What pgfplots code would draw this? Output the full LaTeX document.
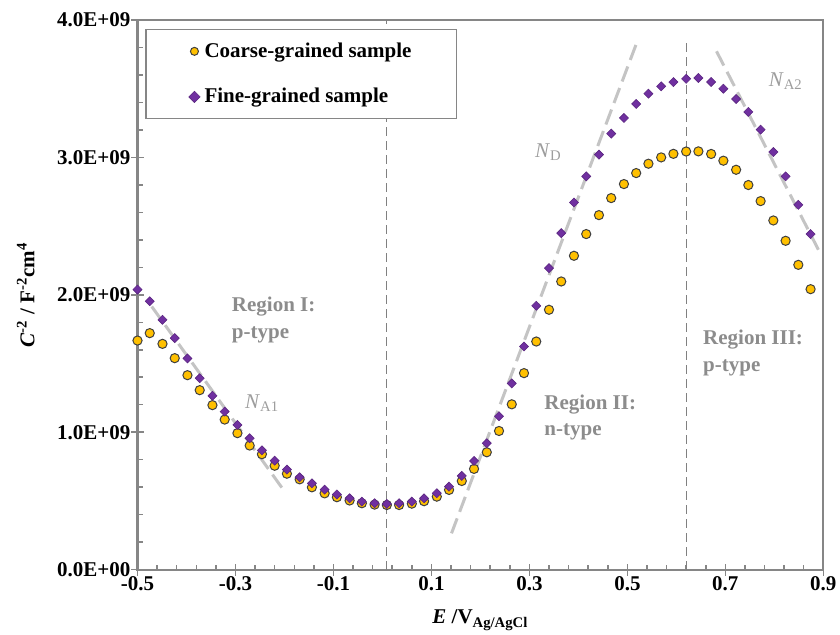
\documentclass[border=0pt]{standalone}
\usepackage{fontspec}
\setmainfont{Liberation Serif}
\usepackage{pgfplots}
\pgfplotsset{compat=1.18}
\definecolor{framegray}{HTML}{868686}
\definecolor{fitgray}{HTML}{C4C4C4}
\definecolor{vgray}{HTML}{808080}
\definecolor{txtgray}{HTML}{8C8C8C}
\definecolor{coarse}{HTML}{FFC000}
\definecolor{fine}{HTML}{7030A0}

\pgfplotstableread{
x y
-0.500 1.667e9
-0.475 1.721e9
-0.449 1.643e9
-0.424 1.539e9
-0.398 1.415e9
-0.373 1.306e9
-0.347 1.197e9
-0.322 1.092e9
-0.296 0.993e9
-0.271 0.903e9
-0.246 0.840e9
-0.220 0.756e9
-0.195 0.698e9
-0.169 0.657e9
-0.144 0.599e9
-0.118 0.555e9
-0.093 0.527e9
-0.067 0.503e9
-0.042 0.483e9
-0.016 0.473e9
0.009 0.470e9
0.034 0.470e9
0.060 0.480e9
0.085 0.498e9
0.111 0.531e9
0.136 0.580e9
0.162 0.645e9
0.187 0.733e9
0.213 0.854e9
0.238 1.009e9
0.264 1.203e9
0.289 1.430e9
0.314 1.660e9
0.340 1.891e9
0.365 2.097e9
0.391 2.284e9
0.416 2.442e9
0.442 2.580e9
0.467 2.704e9
0.493 2.806e9
0.518 2.886e9
0.543 2.954e9
0.569 3.000e9
0.594 3.026e9
0.620 3.043e9
0.645 3.044e9
0.671 3.025e9
0.696 2.976e9
0.722 2.910e9
0.747 2.799e9
0.772 2.682e9
0.798 2.541e9
0.823 2.393e9
0.849 2.218e9
0.874 2.041e9
}\coarsedata

\pgfplotstableread{
x y
-0.500 2.038e9
-0.475 1.953e9
-0.449 1.818e9
-0.424 1.685e9
-0.398 1.537e9
-0.373 1.393e9
-0.347 1.265e9
-0.322 1.150e9
-0.296 1.053e9
-0.271 0.956e9
-0.246 0.868e9
-0.220 0.793e9
-0.195 0.728e9
-0.169 0.672e9
-0.144 0.628e9
-0.118 0.582e9
-0.093 0.547e9
-0.067 0.519e9
-0.042 0.495e9
-0.016 0.483e9
0.009 0.478e9
0.034 0.483e9
0.060 0.495e9
0.085 0.519e9
0.111 0.556e9
0.136 0.604e9
0.162 0.682e9
0.187 0.791e9
0.213 0.920e9
0.238 1.116e9
0.264 1.355e9
0.289 1.624e9
0.314 1.920e9
0.340 2.194e9
0.365 2.449e9
0.391 2.672e9
0.416 2.862e9
0.442 3.020e9
0.467 3.173e9
0.493 3.287e9
0.518 3.389e9
0.543 3.464e9
0.569 3.517e9
0.594 3.548e9
0.620 3.572e9
0.645 3.578e9
0.671 3.549e9
0.696 3.500e9
0.722 3.425e9
0.747 3.331e9
0.772 3.202e9
0.798 3.039e9
0.823 2.862e9
0.849 2.655e9
0.874 2.442e9
}\finedata

\begin{document}
\begin{tikzpicture}
\begin{axis}[
    scale only axis,
    width=342.9pt, height=274.8pt,
    xmin=-0.5, xmax=0.9,
    ymin=0, ymax=4e9,
    scaled y ticks=false, scaled x ticks=false,
    xtick={-0.5,-0.3,-0.1,0.1,0.3,0.5,0.7,0.9},
    xticklabels={-0.5,-0.3,-0.1,0.1,0.3,0.5,0.7,0.9},
    ytick={0,1e9,2e9,3e9,4e9},
    yticklabels={0.0E+00,1.0E+09,2.0E+09,3.0E+09,4.0E+09},
    minor x tick num=4, minor y tick num=4,
    xtick pos=bottom, ytick pos=left,
    tick align=inside,
    major tick length=6pt, minor tick length=2.5pt,
    major x tick style={yshift=-3pt},
    major y tick style={xshift=-3pt},
    axis line style={draw=framegray, line width=1pt},
    tick style={draw=framegray, line width=0.75pt},
    tick label style={font=\bfseries\fontsize{10.5}{12}\selectfont, text=black},
    xlabel={\textit{E} /V\textsubscript{Ag/AgCl}},
    ylabel={\textit{C}\textsuperscript{-2} / F\textsuperscript{-2}cm\textsuperscript{4}},
    xlabel style={at={(axis description cs:0.5,-0.092)}, anchor=center,
        font=\bfseries\fontsize{10.5}{12}\selectfont},
    ylabel style={at={(axis description cs:-0.163,0.5)}, anchor=center, rotate=0,
        font=\bfseries\fontsize{10.5}{12}\selectfont},
    legend style={at={(0.011,0.984)}, anchor=north west, draw=framegray,
        line width=0.75pt, fill=white,
        font=\bfseries\fontsize{10.5}{12}\selectfont,
        inner xsep=21.5pt, inner ysep=5.5pt, row sep=12pt,
        nodes={inner sep=1pt}},
    legend cell align=left,
    legend image code/.code={\draw[#1, mark size=2pt] plot coordinates {(0pt,0pt)};},
    /tikz/every odd column/.append style={column sep=1.2pt},
    clip=false,
]
\addplot[only marks, mark=*, mark size=2.3pt,
    mark options={fill=coarse, draw=black!75, line width=0.5pt}] table {\coarsedata};
\addlegendentry{Coarse-grained sample}
\addplot[only marks, mark=square*, mark size=1.6pt,
    mark options={fill=fine, draw=fine!80!black, line width=0.3pt, rotate=45}] table {\finedata};
\addlegendentry{Fine-grained sample}

% Mott-Schottky fits
\addplot[fitgray, line width=1.5pt, dash pattern=on 8pt off 3.5pt, forget plot]
    coordinates {(-0.471,1.915e9) (-0.201,0.575e9)};
\addplot[fitgray, line width=1.5pt, dash pattern=on 8pt off 3.5pt, forget plot]
    coordinates {(0.141,0.264e9) (0.519,3.833e9)};
\addplot[fitgray, line width=1.5pt, dash pattern=on 8pt off 3.5pt, forget plot]
    coordinates {(0.682,3.772e9) (0.890,2.328e9)};

% region borders
\addplot[vgray, line width=0.6pt, dash pattern=on 4.5pt off 2.5pt, forget plot]
    coordinates {(0.009,0) (0.009,4e9)};
\addplot[vgray, line width=0.6pt, dash pattern=on 4.5pt off 2.5pt, forget plot]
    coordinates {(0.620,0) (0.620,3.85e9)};

\begin{scope}[every node/.style={text=txtgray, font=\bfseries\fontsize{10.5}{13.3}\selectfont, align=left, anchor=west, inner sep=0pt}]
\node at (axis cs:-0.308,1.818e9) {Region I:\\p-type};
\node at (axis cs:0.330,1.108e9) {Region II:\\n-type};
\node at (axis cs:0.654,1.576e9) {Region III:\\p-type};
\end{scope}
\begin{scope}[every node/.style={text=fitgray!80!black, font=\fontsize{10.5}{12}\selectfont, anchor=west, inner sep=0pt}]
\node at (axis cs:-0.281,1.211e9) {\textit{N}\textsubscript{A1}};
\node at (axis cs:0.311,3.036e9) {\textit{N}\textsubscript{D}};
\node at (axis cs:0.788,3.554e9) {\textit{N}\textsubscript{A2}};
\end{scope}
\end{axis}
\pgfresetboundingbox
\path[use as bounding box] (current axis.south west) ++(-68.75pt,-32.2pt) rectangle ++(420pt,317pt);
\end{tikzpicture}
\end{document}
